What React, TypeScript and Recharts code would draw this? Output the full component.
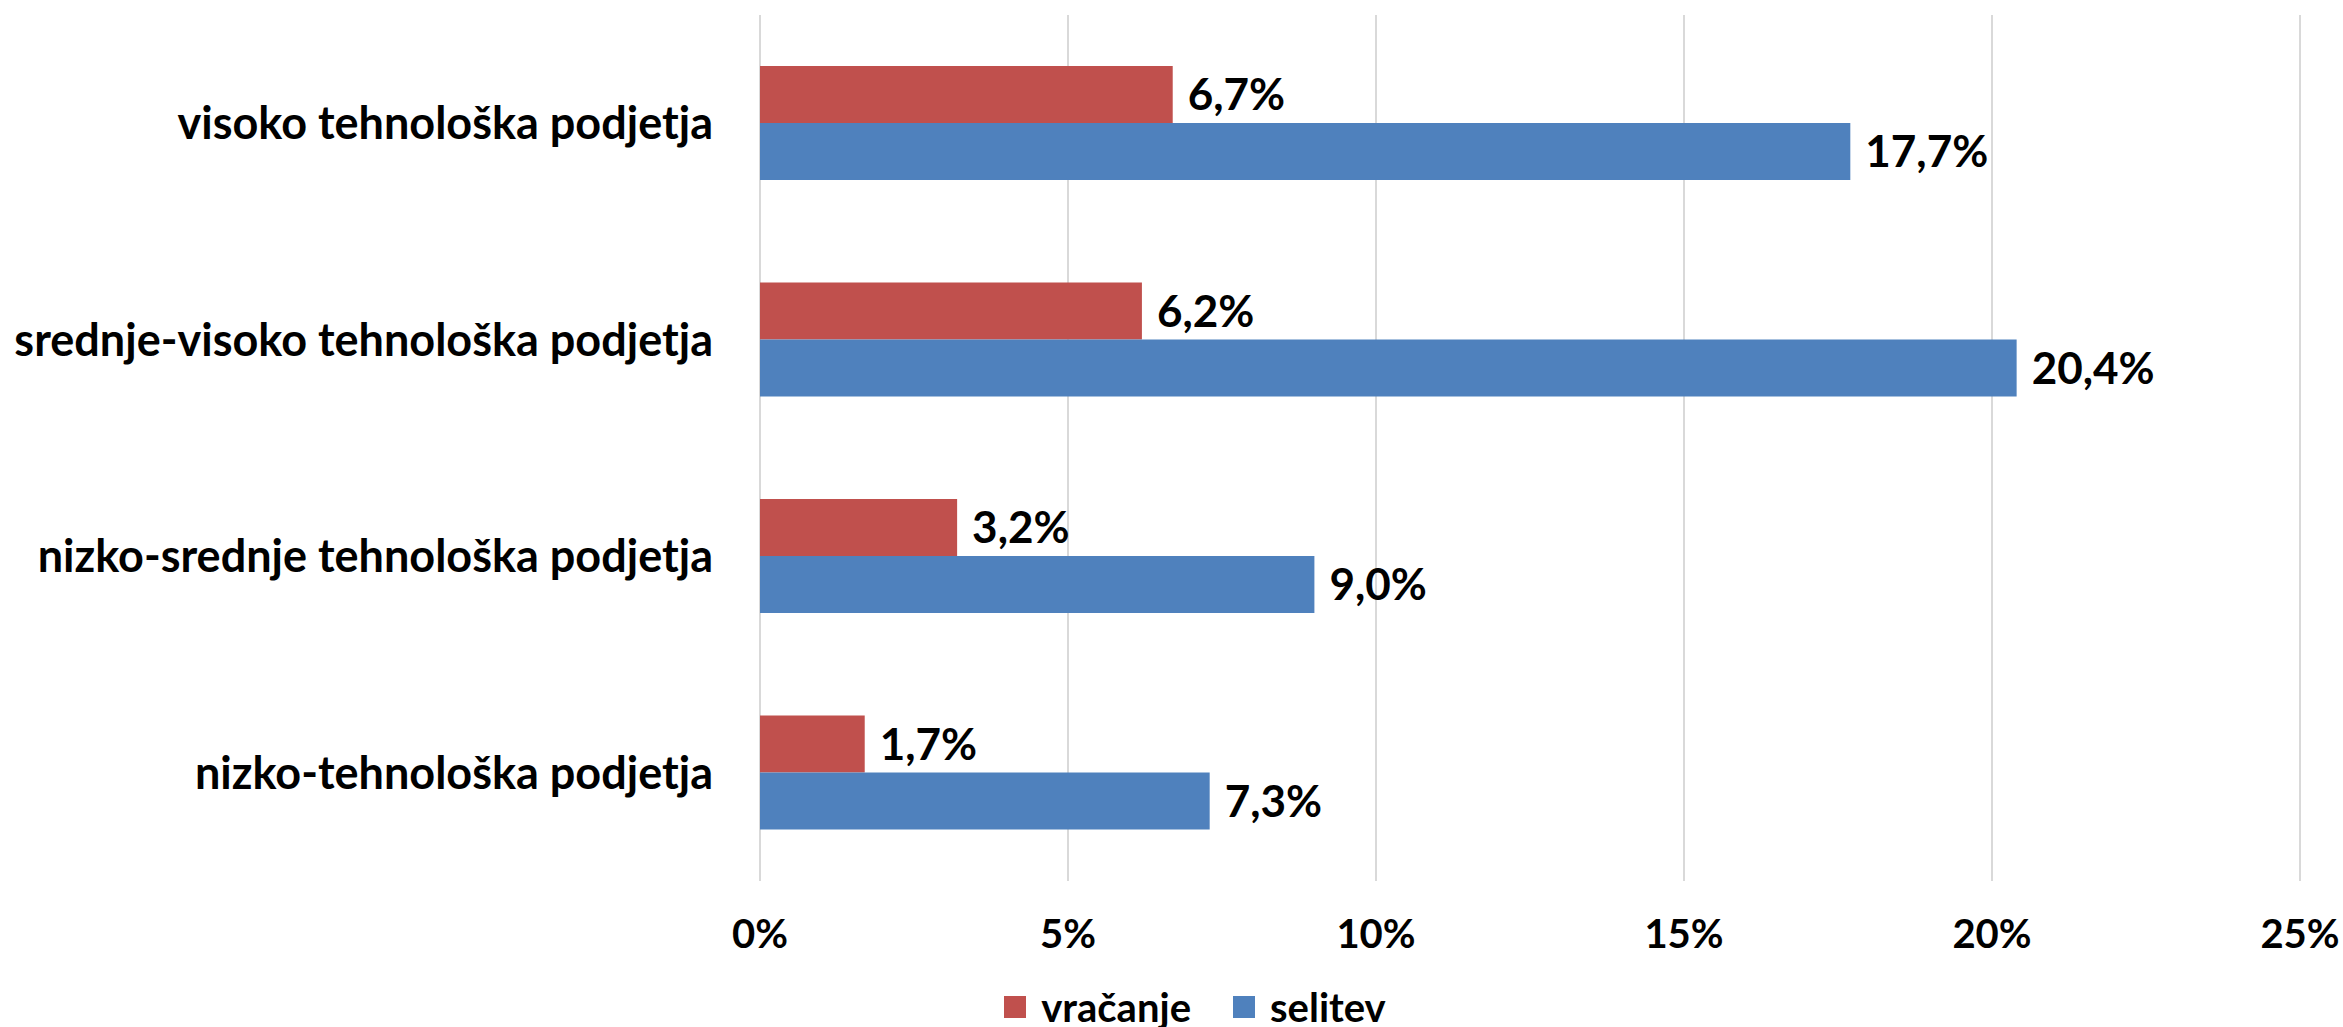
import { BarChart, Bar, XAxis, YAxis, CartesianGrid, Legend, LabelList } from "recharts";

const categories = [
  "visoko tehnološka podjetja",
  "srednje-visoko tehnološka podjetja",
  "nizko-srednje tehnološka podjetja",
  "nizko-tehnološka podjetja",
];
const vracanje = [6.7, 6.2, 3.2, 1.7];
const selitev = [17.7, 20.4, 9.0, 7.3];
const xTicks = [0, 5, 10, 15, 20, 25];

const data = categories.map((name, i) => ({ name, vracanje: vracanje[i], selitev: selitev[i] }));

const RED = "#C0504D";
const BLUE = "#4F81BD";
const FONT = "Lato, 'Open Sans', sans-serif";

const fmt = (v: any) => Number(v).toFixed(1).replace(".", ",") + "%";

function LegendContent() {
  const items = [
    { label: "vračanje", color: RED },
    { label: "selitev", color: BLUE },
  ];
  return (
    <div
      style={{
        display: "flex",
        justifyContent: "center",
        alignItems: "center",
        height: 36,
        paddingLeft: 90,
        transform: "translateY(-2px)",
        fontFamily: FONT,
        fontWeight: 700,
        fontSize: 40,
        color: "#000",
      }}
    >
      {items.map((it, i) => (
        <div key={it.label} style={{ display: "flex", alignItems: "center", marginLeft: i ? 42 : 0 }}>
          <span style={{ width: 22, height: 22, background: it.color, display: "inline-block", marginRight: 15 }} />
          <span style={{ lineHeight: "36px" }}>{it.label}</span>
        </div>
      ))}
    </div>
  );
}

export default function App() {
  return (
    <div style={{ width: 2343, height: 1027, background: "#fff" }}>
      <style>{`body{margin:0}`}</style>
      <BarChart
        width={2343}
        height={1027}
        data={data}
        layout="vertical"
        margin={{ top: 15, right: 43, left: 0, bottom: 0 }}
        barSize={57}
        barGap={0}
      >
        <CartesianGrid stroke="#D9D9D9" strokeWidth={2} horizontal={false} vertical={true} />
        <XAxis
          type="number"
          domain={[0, 25]}
          ticks={xTicks}
          axisLine={false}
          tickLine={false}
          tickSize={0}
          tickMargin={39}
          height={110}
          interval={0}
          tickFormatter={(v) => `${v}%`}
          tick={{ fill: "#000", fontSize: 40, fontWeight: 700, fontFamily: FONT }}
        />
        <YAxis
          type="category"
          dataKey="name"
          width={760}
          axisLine={false}
          tickLine={false}
          tickSize={0}
          tickMargin={47}
          interval={0}
          tick={{ fill: "#000", fontSize: 45, fontWeight: 700, fontFamily: FONT }}
        />
        <Legend verticalAlign="bottom" content={<LegendContent />} />
        <Bar dataKey="vracanje" name="vračanje" fill={RED} isAnimationActive={false}>
          <LabelList
            dataKey="vracanje"
            position="right"
            offset={15}
            formatter={fmt}
            style={{ fill: "#000", fontSize: 44, fontWeight: 700, fontFamily: FONT }}
          />
        </Bar>
        <Bar dataKey="selitev" name="selitev" fill={BLUE} isAnimationActive={false}>
          <LabelList
            dataKey="selitev"
            position="right"
            offset={15}
            formatter={fmt}
            style={{ fill: "#000", fontSize: 44, fontWeight: 700, fontFamily: FONT }}
          />
        </Bar>
      </BarChart>
    </div>
  );
}
